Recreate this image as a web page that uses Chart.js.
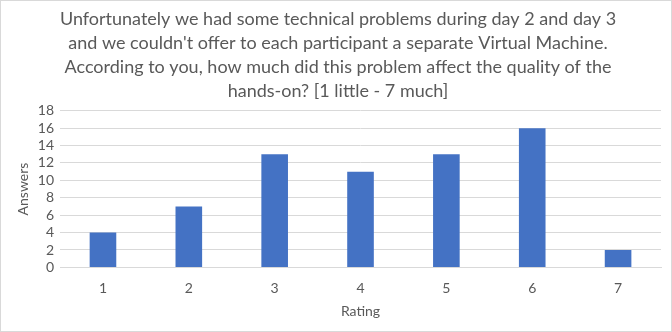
<!DOCTYPE html>
<html>
<head>
<meta charset="utf-8">
<script src="https://cdn.jsdelivr.net/npm/chart.js@4/dist/chart.umd.min.js"></script>
<style>
  html, body { margin: 0; padding: 0; background: #fff; }
  #wrap { width: 670px; height: 330px; border: 1px solid #d9d9d9; position: relative; }
</style>
</head>
<body>
<div id="wrap"><canvas id="ratingChart"></canvas></div>
<script>
const ratings = ["1", "2", "3", "4", "5", "6", "7"];
const answers = [4, 7, 13, 11, 13, 16, 2];
const titleLines = [
  "Unfortunately we had some technical problems during day 2 and day 3",
  "and we couldn't offer to each participant a separate Virtual Machine.",
  "According to you, how much did this problem affect the quality of the",
  "hands-on? [1 little - 7 much]"
];

const fontFamily = "Lato, 'Open Sans', sans-serif";
Chart.defaults.color = "#595959";

new Chart(document.getElementById("ratingChart"), {
  type: "bar",
  data: {
    labels: ratings,
    datasets: [{
      label: "Answers",
      data: answers,
      backgroundColor: "#4472c4",
      borderWidth: 0,
      categoryPercentage: 1,
      barPercentage: 0.31,
    }],
  },
  options: {
    responsive: true,
    maintainAspectRatio: false,
    animation: false,
    layout: { padding: { left: 14, right: 10, top: 4, bottom: 11 } },
    scales: {
      x: {
        grid: { display: false },
        border: { color: "#d9d9d9" },
        ticks: { font: { family: fontFamily, size: 14 }, padding: 5 },
        title: {
          display: true,
          text: "Rating",
          font: { family: fontFamily, size: 14 },
          padding: { top: 1, bottom: 0 },
        },
      },
      y: {
        min: 0,
        max: 18,
        grid: { color: "#d9d9d9", drawTicks: false },
        border: { display: false },
        ticks: {
          stepSize: 2,
          autoSkip: false,
          font: { family: fontFamily, size: 14 },
          padding: 6,
        },
        title: {
          display: true,
          text: "Answers",
          font: { family: fontFamily, size: 14 },
          padding: { top: 0, bottom: 0 },
        },
      },
    },
    plugins: {
      legend: { display: false },
      tooltip: { enabled: false },
      title: {
        display: true,
        text: titleLines,
        color: "#595959",
        font: { family: fontFamily, size: 18, weight: "normal", lineHeight: 1.33 },
        padding: { top: 2, bottom: 8 },
      },
    },
  },
});
</script>
</body>
</html>
